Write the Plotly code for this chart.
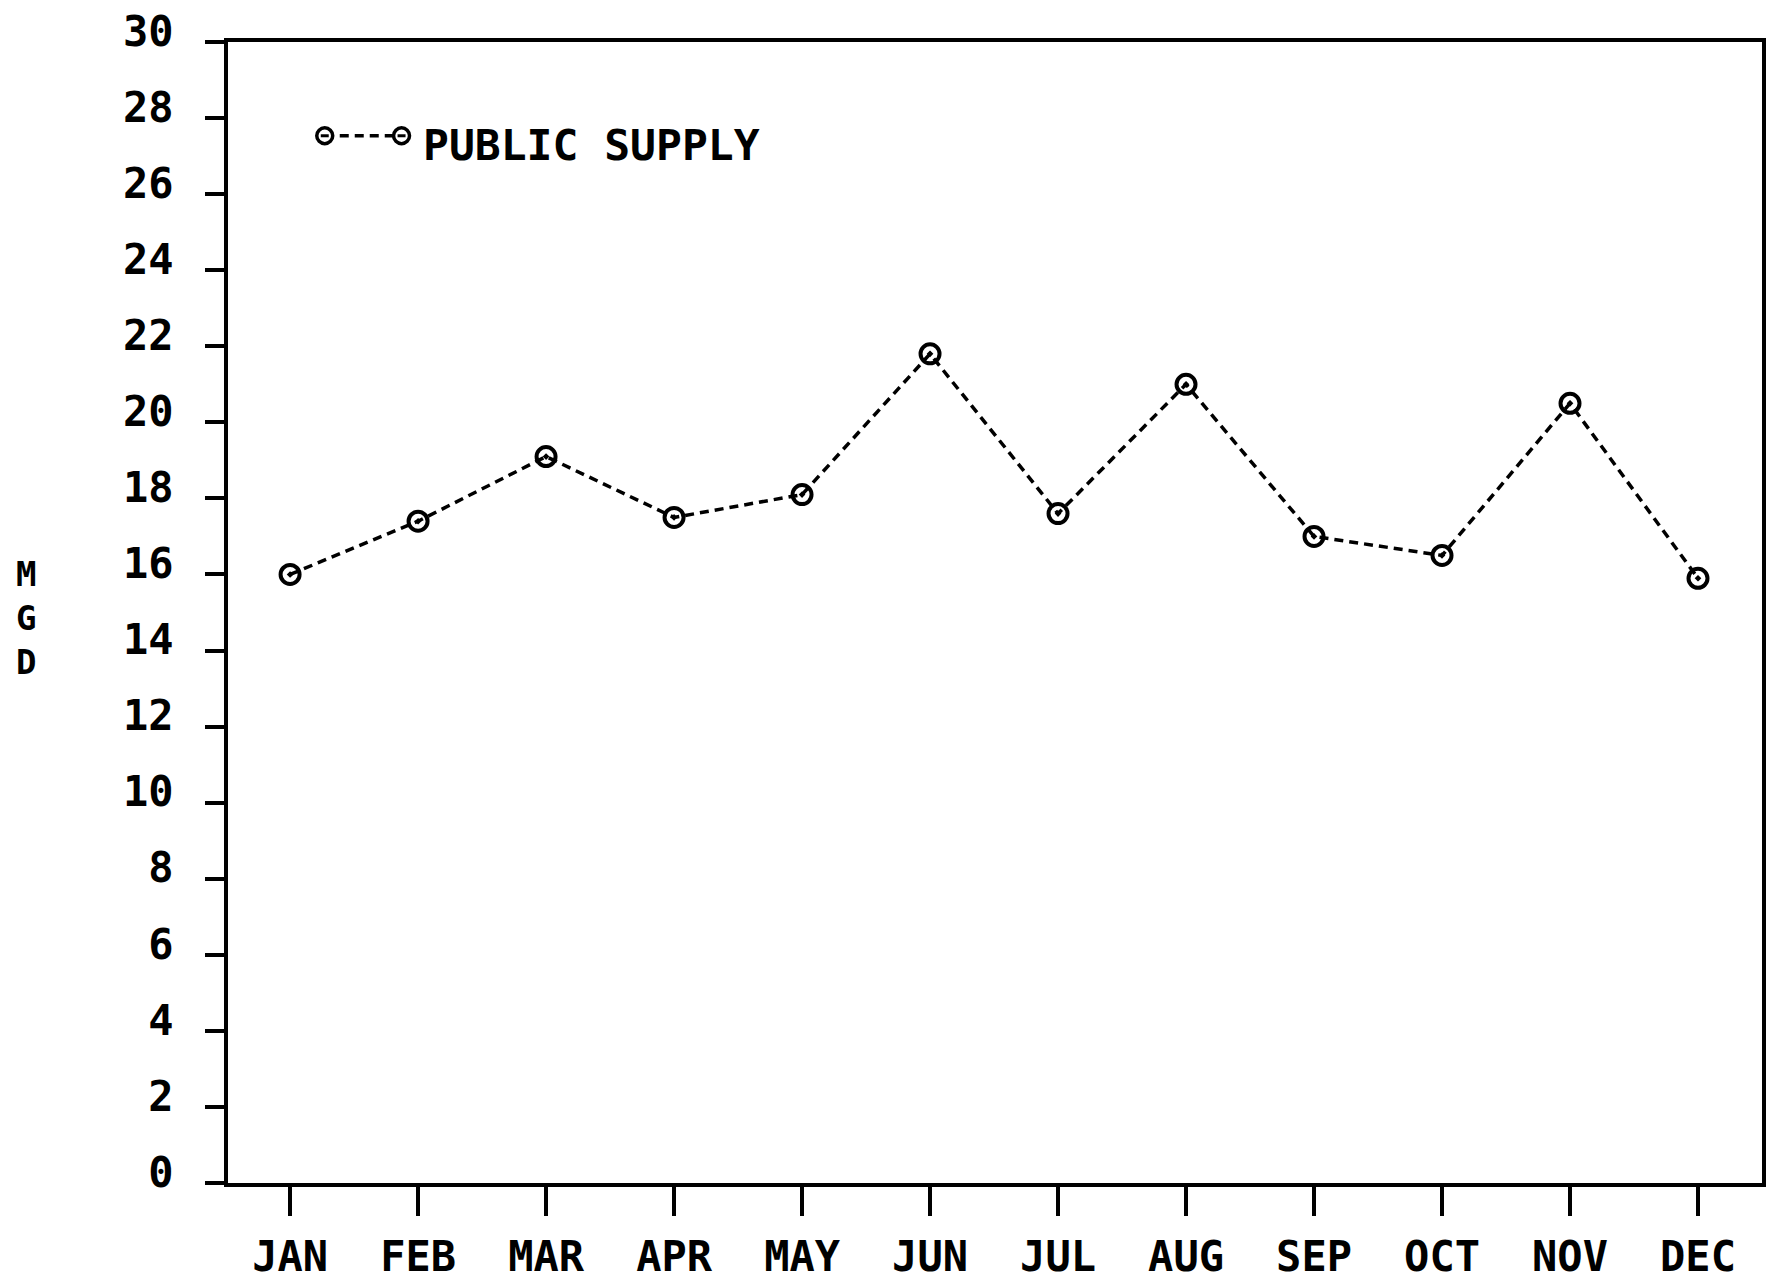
import plotly.graph_objects as go

months = ["JAN", "FEB", "MAR", "APR", "MAY", "JUN", "JUL", "AUG", "SEP", "OCT", "NOV", "DEC"]
public_supply = [16.0, 17.4, 19.1, 17.5, 18.1, 21.8, 17.6, 21.0, 17.0, 16.5, 20.5, 15.9]
y_ticks = list(range(0, 31, 2))
y_tick_labels = [str(v) for v in y_ticks]
legend_label = "PUBLIC SUPPLY"
axis_title = "M<br>G<br>D"

FONT = "DejaVu Sans Mono"
W, H = 1773, 1288
# plot-area edges in page pixels
P_L, P_R, P_T, P_B = 228, 1766, 36, 1192
L, T, R, B = P_L, P_T, W - P_R, H - P_B

fig = go.Figure()
fig.add_trace(go.Scatter(
    x=list(range(len(months))), y=public_supply, mode="lines+markers",
    line=dict(color="black", width=3.5, dash="9px,6px"),
    marker=dict(symbol="circle-open-dot", size=19, color="black", line=dict(color="black", width=4)),
    showlegend=False,
))

pw = W - L - R
ph = H - T - B
def px(x):
    return (x - L) / pw
def py(y):
    return 1 - (y - T) / ph

ly = 131
fig.add_shape(type="line", xref="paper", yref="paper", x0=px(325), x1=px(402), y0=py(ly), y1=py(ly),
              line=dict(color="black", width=3.5, dash="9px,6px"))
for cx in (325, 402):
    fig.add_shape(type="circle", xref="paper", yref="paper", x0=px(cx - 8), x1=px(cx + 8), y0=py(ly + 8), y1=py(ly - 8),
                  line=dict(color="black", width=3.5), fillcolor="white")
    fig.add_shape(type="line", xref="paper", yref="paper", x0=px(cx - 4), x1=px(cx + 4), y0=py(ly), y1=py(ly),
                  line=dict(color="black", width=3))
fig.add_annotation(text=legend_label, xref="paper", yref="paper", x=px(422), y=py(140), xanchor="left", yanchor="middle",
                   showarrow=False, font=dict(family=FONT, size=43, color="black", weight="bold"))

fig.add_annotation(text=axis_title, xref="paper", yref="paper", x=px(25), y=py(620), xanchor="center", yanchor="middle",
                   showarrow=False, align="center", font=dict(family=FONT, size=34, color="black", weight="bold"))

tickfont = dict(family=FONT, size=42, color="black", weight="bold")
fig.update_layout(
    width=W, height=H, margin=dict(l=L, r=R, t=T, b=B, pad=0),
    paper_bgcolor="white", plot_bgcolor="white",
    font=dict(family=FONT, size=42, color="black"),
    xaxis=dict(range=[-0.485, 11.5], tickvals=list(range(len(months))), ticktext=months,
               showgrid=False, zeroline=False, showline=True, linecolor="black", linewidth=4, mirror=True,
               ticks="outside", ticklen=29, tickwidth=3.5, tickcolor="black", ticklabelstandoff=5,
               tickfont=tickfont),
    yaxis=dict(range=[0, 30], tickvals=y_ticks, ticktext=y_tick_labels,
               showgrid=False, zeroline=False, showline=True, linecolor="black", linewidth=4, mirror=True,
               ticks="outside", ticklen=19, tickwidth=4, tickcolor="black", ticklabelstandoff=23,
               ticklabelshift=-11, ticklabeloverflow="allow",
               tickfont=tickfont),
)
fig.write_html(
    "out.html",
    config={"displayModeBar": False},
    post_script="document.body.style.margin='0';document.body.style.overflow='hidden';",
)
